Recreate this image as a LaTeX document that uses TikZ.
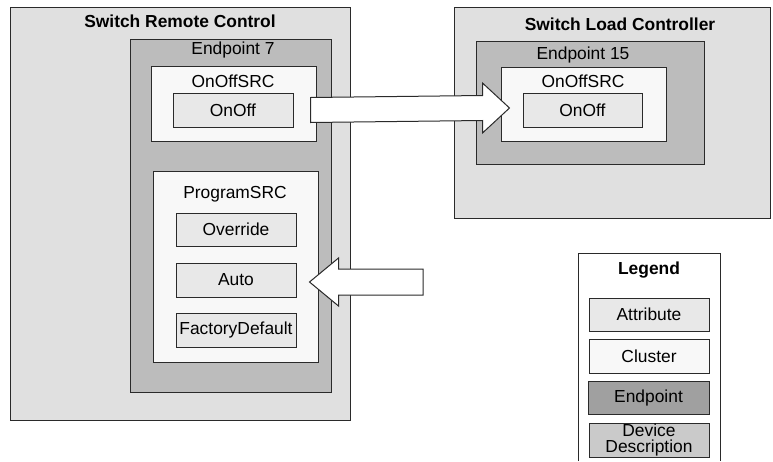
\documentclass[tikz,border=0pt]{standalone}
\usepackage{fontspec}
\setmainfont{Liberation Sans}
\usetikzlibrary{calc,positioning}
\definecolor{Device}{HTML}{E0E0E0}
\definecolor{EndPt}{HTML}{BCBCBC}
\definecolor{Attr}{HTML}{E8E8E8}
\definecolor{Clust}{HTML}{F8F8F8}
\definecolor{Edge}{HTML}{2A2A2A}
\tikzset{
  box/.style={draw=Edge,line width=1pt,inner sep=0pt,minimum width=#1},
  devicebox/.style={box=#1,fill=Device},
  epbox/.style={box=#1,fill=EndPt},
  clbox/.style={box=#1,fill=Clust},
  attrbox/.style={box=#1,fill=Attr,minimum height=34},
  title/.style={inner sep=0pt},
  blockarrow/.style={draw=Edge,line width=1pt,fill=white,line join=miter}
}
\begin{document}
\begin{tikzpicture}[x=1pt,y=-1pt,font=\fontsize{17.4}{14}\selectfont]
        \useasboundingbox (0,0) rectangle (773,461);
        % Switch Remote Control
        \node[devicebox=340,minimum height=413](src)at(180,213.5){};
        \node[title,font=\fontsize{17.4}{14}\selectfont\bfseries](srctitle)at(180,21){Switch Remote Control};
        \node[epbox=201,minimum height=353](ep7)at(230.5,215.5){};
        \node[title](ep7title)at(233,50){Endpoint 7};
        \node[clbox=165,minimum height=75](onoffsrc1)at(233.5,103.5){};
        \node[title](onoffsrc1title)at(233,81){OnOffSRC};
        \node[attrbox=120](onoff1)at(233,110){OnOff};
        \node[clbox=165,minimum height=191](progsrc)at(235.5,266.5){};
        \node[title](progsrctitle)at(235,194){ProgramSRC};
        \node[attrbox=120,minimum height=33](override)at(236,229.5){Override};
        \node[attrbox=120](auto)at(236,280){Auto};
        \node[attrbox=120](factory)at(236,330){FactoryDefault};
        % Switch Load Controller
        \node[devicebox=316,minimum height=211](slc)at(612,112.5){};
        \node[title,font=\fontsize{17.4}{14}\selectfont\bfseries](slctitle)at(620,24){Switch Load Controller};
        \node[epbox=228,minimum height=123](ep15)at(590,102.5){};
        \node[title](ep15title)at(583,55){Endpoint 15};
        \node[clbox=165,minimum height=74](onoffsrc2)at(583.5,104){};
        \node[title](onoffsrc2title)at(583,81){OnOffSRC};
        \node[attrbox=119](onoff2)at(582.5,110){OnOff};
        % block arrows
        \coordinate(t1)at($(onoff1.east)+(17,0)$);
        \coordinate(h1)at($(onoff2.west)+(-13,-2)$);
        \draw[blockarrow]($(t1)+(0,-12.5)$)--($(h1)+(-27,-12.5)$)--($(h1)+(-27,-25)$)--(h1)
          --($(h1)+(-27,25)$)--($(h1)+(-27,12.5)$)--($(t1)+(0,12.5)$)--cycle;
        \coordinate(t2)at(423,282);
        \coordinate(h2)at($(auto.east)+(13,2)$);
        \draw[blockarrow]($(t2)+(0,-13)$)--($(h2)+(29,-13)$)--($(h2)+(29,-24)$)--(h2)
          --($(h2)+(29,24)$)--($(h2)+(29,13)$)--($(t2)+(0,13)$)--cycle;
        % legend
        \draw[draw=Edge,line width=1pt,fill=white](578,461)|-(720,253)--(720,461);
        \node[title,font=\fontsize{17.4}{14}\selectfont\bfseries](legend)at(649,270){Legend};
        \node[attrbox=120,minimum height=33](lgattr)at(649,314.5){Attribute};
        \node[clbox=120,minimum height=34](lgclust)at(649,356){Cluster};
        \node[epbox=121,minimum height=33,fill=EndPt!85!black](lgep)at(648.5,397.5){Endpoint};
        \node[devicebox=120,minimum height=34,fill=Device!90!black,align=center,
          font=\fontsize{17.4}{16}\selectfont](lgdev)at(649,440){Device\\Description};
      \end{tikzpicture}
\end{document}
